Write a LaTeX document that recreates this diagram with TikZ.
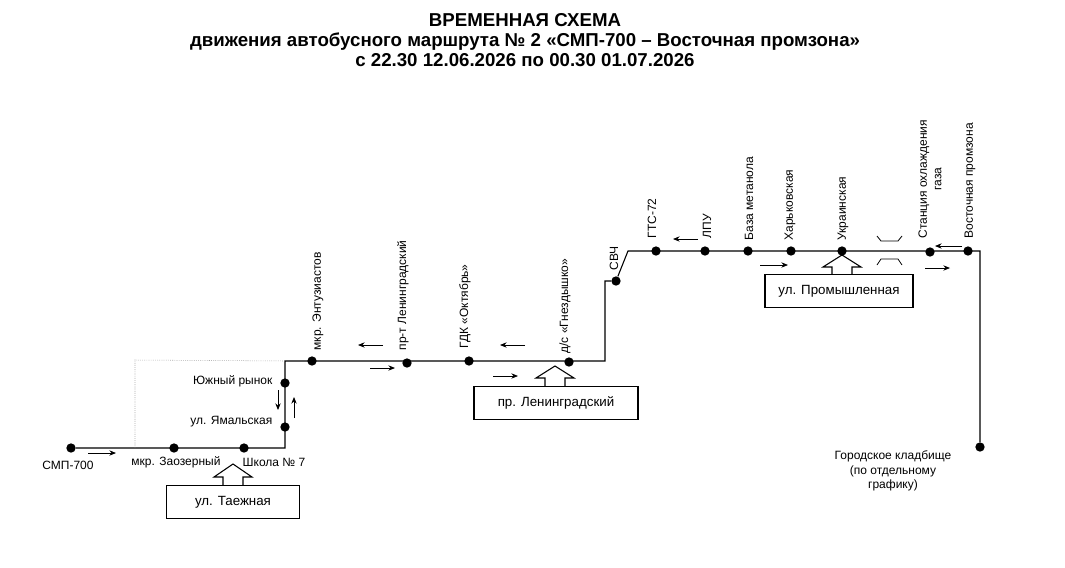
\documentclass[tikz,border=0pt]{standalone}
\usepackage{fontspec}
\setmainfont{Liberation Sans}
\usetikzlibrary{arrows.meta}
\begin{document}
\begin{tikzpicture}[x=0.75pt,y=0.75pt,yscale=-1,xscale=1,
  stop/.style={circle,fill=black,inner sep=0pt,minimum size=7pt},
  lbl/.style={font=\small,inner sep=1pt},
  vlbl/.style={font=\small,inner sep=1pt,rotate=90,anchor=west},
  dir/.style={-{Stealth[length=5pt,width=4pt]},semithick},
  street/.style={draw,thick,font=\normalsize,minimum height=25pt,inner sep=4pt}]
\useasboundingbox (0,0) rectangle (1065,568);

% Title
\node[font=\bfseries\fontsize{14}{15}\selectfont,align=center] (title) at (525,40) {ВРЕМЕННАЯ СХЕМА\\движения автобусного маршрута № 2 «СМП-700 – Восточная промзона»\\с 22.30 12.06.2026 по 00.30 01.07.2026};

% Stops
\node[stop] (smp) at (71,448) {};
\node[stop] (zaoz) at (174,448) {};
\node[stop] (shk) at (244,448) {};
\node[stop] (yam) at (285,427) {};
\node[stop] (yuzh) at (285,383) {};
\node[stop] (entuz) at (312,361) {};
\node[stop] (lenpr) at (407,363) {};
\node[stop] (gdk) at (469,361) {};
\node[stop] (gnezd) at (569,362) {};
\node[stop] (svch) at (616,281) {};
\node[stop] (gts) at (656,251) {};
\node[stop] (lpu) at (705,251) {};
\node[stop] (baza) at (748,251) {};
\node[stop] (khark) at (791,251) {};
\node[stop] (ukr) at (842,251) {};
\node[stop] (stan) at (930,252) {};
\node[stop] (vost) at (968,251) {};
\node[stop] (klad) at (980,447) {};

% Route line
\coordinate (c1) at (285,448);
\coordinate (c2) at (285,361);
\coordinate (c3) at (605,361);
\coordinate (c4) at (605,281);
\coordinate (c5) at (628,251);
\coordinate (c6) at (980,251);
\draw[thick] (smp) -- (c1) -- (c2) -- (c3) -- (c4) -- (svch.west) (svch) -- (c5) -- (c6) -- (klad);
\draw[densely dotted,gray] (135,448) -- (135,360) -- (c2);

% Labels
\node[lbl] at (68,465) {СМП-700};
\node[lbl] at (176,462) {мкр. Заозерный};
\node[lbl] at (274,462) {Школа № 7};
\node[lbl,anchor=east] at (274,381) {Южный рынок};
\node[lbl,anchor=east] at (274,422) {ул. Ямальская};
\node[vlbl] at (318,352) {мкр. Энтузиастов};
\node[vlbl] at (403,352) {пр-т Ленинградский};
\node[vlbl] at (465,350) {ГДК «Октябрь»};
\node[vlbl] at (565,355) {д/с «Гнездышко»};
\node[vlbl] at (614,272) {СВЧ};
\node[vlbl] at (652,240) {ГТС-72};
\node[vlbl] at (707,240) {ЛПУ};
\node[vlbl] at (749,242) {База метанола};
\node[vlbl] at (790,242) {Харьковская};
\node[vlbl] at (843,242) {Украинская};
\node[vlbl,align=center] at (930,240) {Станция охлаждения\\газа};
\node[vlbl] at (970,240) {Восточная промзона};
\node[lbl,align=center] at (893,471) {Городское кладбище\\(по отдельному\\графику)};

% Direction arrows
\draw[dir] (88,453) -- (116,453);
\draw[dir] (278,390) -- (278,410);
\draw[dir] (294,418) -- (294,397);
\draw[dir] (383,345) -- (358,345);
\draw[dir] (370,368) -- (395,368);
\draw[dir] (525,345) -- (500,345);
\draw[dir] (493,376) -- (518,376);
\draw[dir] (698,239) -- (673,239);
\draw[dir] (760,265) -- (788,265);
\draw[dir] (962,246) -- (935,246);
\draw[dir] (925,268) -- (950,268);

% Bridge
\draw[semithick] (877,236) -- (881,241) -- (898,241) -- (902,236);
\draw[semithick] (877,265) -- (881,259) -- (898,259) -- (902,265);

% Street boxes
\node[street,minimum width=100pt] (taezh) at (233,502) {ул. Таежная};
\draw[thick] (223,485) -- (223,477) -- (214,477) -- (233,464) -- (252,477) -- (243,477) -- (243,485);
\node[street,minimum width=123pt] (lenbox) at (556,403) {пр. Ленинградский};
\draw[thick] (545,386) -- (545,378) -- (536,378) -- (555,366) -- (574,378) -- (565,378) -- (565,386);
\node[street,minimum width=111pt] (prom) at (839,291) {ул. Промышленная};
\draw[thick] (832,274) -- (832,267) -- (823,267) -- (842,255) -- (861,267) -- (852,267) -- (852,274);
\end{tikzpicture}
\end{document}
